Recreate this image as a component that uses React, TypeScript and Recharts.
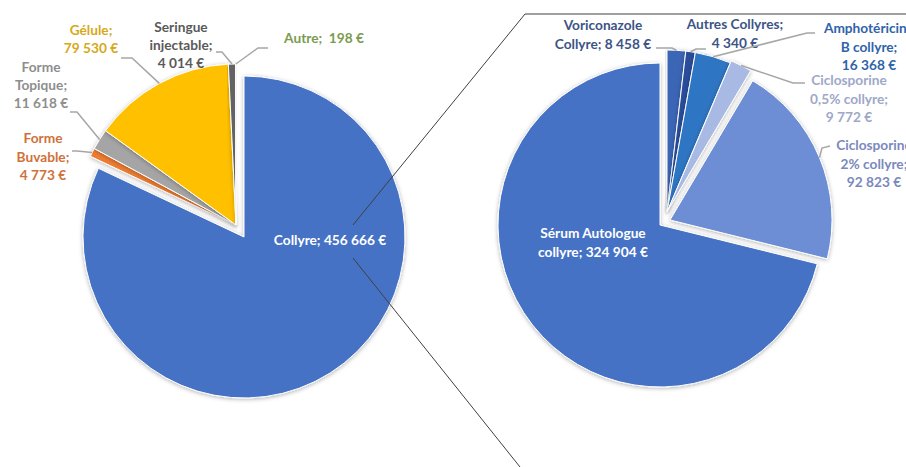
import React from "react";
import { PieChart, Pie, Cell } from "recharts";

// left pie: spending by form
const leftNames = ["Collyre", "Forme Buvable", "Forme Topique", "Gélule", "Seringue injectable", "Autre"];
const leftValues = [456666, 4773, 11618, 79530, 4014, 198];
const leftLabelLines = [["Collyre"], ["Forme", "Buvable"], ["Forme", "Topique"], ["Gélule"], ["Seringue", "injectable"], ["Autre"]];
// separator between name and value: null = new line
const leftSep = [" ", null, null, null, null, "\u00a0 "];

// right pie: detail of "Collyre"
const rightNames = [
  "Voriconazole Collyre",
  "Autres Collyres",
  "Amphotéricine B collyre",
  "Ciclosporine 0,5% collyre",
  "Ciclosporine 2% collyre",
  "Sérum Autologue collyre",
];
const rightValues = [8458, 4340, 16368, 9772, 92823, 324904];
const rightLabelLines = [
  ["Voriconazole", "Collyre"],
  ["Autres Collyres"],
  ["Amphotéricine", "B collyre"],
  ["Ciclosporine", "0,5% collyre"],
  ["Ciclosporine", "2% collyre"],
  ["Sérum Autologue", "collyre"],
];
const rightSep = [" ", null, null, null, null, " "];

const leftColors = ["#4472C4", "#ED7D31", "#A5A5A5", "#FFC000", "#636363", "#70AD47"];
const leftTextColors = ["#ffffff", "#D0713A", "#8E8E8E", "#D6A91A", "#5A5A5A", "#7B9B4F"];
const rightColors = ["#3A65B5", "#2B4E9B", "#2F74C3", "#A8B9E3", "#6D8ED5", "#4472C4"];
const rightTextColors = ["#3C5486", "#3C5486", "#2F63AA", "#9EA8C9", "#7A89BD", "#ffffff"];

// pie geometry + explosion of each slice
const LEFT = { cx: 244, cy: 237, r: 161 };
const RIGHT = { cx: 660, cy: 225, r: 162 };
const leftExplode = [[0, 0], [-8, -12], [-8, -12], [-8, -12], [-8, -12], [-8, -12]];
const rightExplode = [[7, -13], [7, -13], [7, -13], [8, -15], [10, -5], [0, 0]];

// label placement: x center, first baseline, line height, leader elbow + end
type LabelPos = { x: number; y: number; lh: number; elbow?: number[]; end?: number[] };
const leftLabelPos: LabelPos[] = [
  { x: 330, y: 245, lh: 18 },
  { x: 43, y: 143, lh: 18.5, elbow: [77, 151], end: [72, 151] },
  { x: 41, y: 72, lh: 18, elbow: [77, 112], end: [70, 112] },
  { x: 91, y: 35, lh: 18, elbow: [132, 58], end: [121, 58] },
  { x: 181, y: 32, lh: 18, elbow: [222, 52], end: [216, 52] },
  { x: 324, y: 43, lh: 18, elbow: [258, 48], end: [268, 48] },
];
const rightLabelPos: LabelPos[] = [
  { x: 603, y: 30, lh: 18.5, elbow: [672, 48], end: [656, 48] },
  { x: 735, y: 29, lh: 19, elbow: [696, 49], end: [706, 49] },
  { x: 869, y: 33, lh: 18.5, elbow: [807, 33], end: [815, 33] },
  { x: 849, y: 85, lh: 18.5, elbow: [793, 83], end: [805, 83] },
  { x: 874, y: 150, lh: 18.5, elbow: [822, 148], end: [830, 146] },
  { x: 593, y: 238, lh: 19 },
];

const leftData = leftNames.map((name, i) => ({ name, value: leftValues[i] }));
const rightData = rightNames.map((name, i) => ({ name, value: rightValues[i] }));

const FONT = "Lato, 'Open Sans', sans-serif";
const RAD = Math.PI / 180;

const fmt = (v: number) => String(v).replace(/\B(?=(\d{3})+(?!\d))/g, "\u00a0") + "\u00a0€";

function textLines(nameLines: string[], sep: string | null, value: number) {
  const out = nameLines.slice();
  out[out.length - 1] = out[out.length - 1] + ";";
  if (sep !== null) out[out.length - 1] += sep + fmt(value);
  else out.push(fmt(value));
  return out;
}

// pie-of-pie series lines, drawn in the label layer so they sit above the slices
const SeriesLines = () => (
  <g stroke="#404040" strokeWidth={1} fill="none">
    <polyline points="353,225 525,14 906,14" />
    <line x1={353} y1={258} x2={520} y2={467} />
  </g>
);

function makeLabel(
  only: number,
  pos: LabelPos[],
  nameLines: string[][],
  seps: (string | null)[],
  values: number[],
  colors: string[],
  extra?: React.ReactNode
) {
  return (props: any) => {
    const { index, cx, cy, midAngle, outerRadius } = props;
    if (index !== only) return null;
    const p = pos[index];
    const lines = textLines(nameLines[index], seps[index], values[index]);
    let leader = null;
    if (p.elbow && p.end) {
      const sx = cx + outerRadius * Math.cos(-midAngle * RAD);
      const sy = cy + outerRadius * Math.sin(-midAngle * RAD);
      leader = (
        <polyline
          points={`${sx},${sy} ${p.elbow[0]},${p.elbow[1]} ${p.end[0]},${p.end[1]}`}
          fill="none"
          stroke="#a6a6a6"
          strokeWidth={1.5}
        />
      );
    }
    return (
      <g>
        {extra}
        {leader}
        <text
          x={p.x}
          y={p.y}
          textAnchor="middle"
          fill={colors[index]}
          fontFamily={FONT}
          fontWeight={700}
          fontSize={13.7}
        >
          {lines.map((l, k) => (
            <tspan key={k} x={p.x} y={p.y + k * p.lh}>
              {l}
            </tspan>
          ))}
        </text>
      </g>
    );
  };
}

export default function App() {
  return (
    <div
      style={{
        position: "absolute",
        left: 0,
        top: 0,
        width: 906,
        height: 467,
        overflow: "hidden",
        background: "#fff",
      }}
    >
      <PieChart width={906} height={467} margin={{ top: 0, right: 0, bottom: 0, left: 0 }}>
        <defs>
          <filter id="pieShadow" x="-10%" y="-10%" width="120%" height="120%">
            <feDropShadow dx="0" dy="1" stdDeviation="2" floodColor="#000" floodOpacity="0.3" />
          </filter>
        </defs>
        {leftData.map((_, i) => (
          <Pie
            key={"l" + i}
            data={leftData}
            dataKey="value"
            nameKey="name"
            cx={LEFT.cx + leftExplode[i][0]}
            cy={LEFT.cy + leftExplode[i][1]}
            outerRadius={LEFT.r}
            startAngle={90}
            endAngle={-270}
            isAnimationActive={false}
            labelLine={false}
            label={makeLabel(
              i,
              leftLabelPos,
              leftLabelLines,
              leftSep,
              leftValues,
              leftTextColors,
              i === 0 ? <SeriesLines /> : undefined
            )}
          >
            {leftData.map((__, j) => (
              <Cell
                key={j}
                fill={i === j ? leftColors[j] : "none"}
                stroke={i === j ? "#ffffff" : "none"}
                strokeWidth={1}
                filter={i === j ? "url(#pieShadow)" : undefined}
              />
            ))}
          </Pie>
        ))}
        {rightData.map((_, i) => (
          <Pie
            key={"r" + i}
            data={rightData}
            dataKey="value"
            nameKey="name"
            cx={RIGHT.cx + rightExplode[i][0]}
            cy={RIGHT.cy + rightExplode[i][1]}
            outerRadius={RIGHT.r}
            startAngle={90}
            endAngle={-270}
            isAnimationActive={false}
            labelLine={false}
            label={makeLabel(i, rightLabelPos, rightLabelLines, rightSep, rightValues, rightTextColors)}
          >
            {rightData.map((__, j) => (
              <Cell
                key={j}
                fill={i === j ? rightColors[j] : "none"}
                stroke={i === j ? "#ffffff" : "none"}
                strokeWidth={1}
                filter={i === j ? "url(#pieShadow)" : undefined}
              />
            ))}
          </Pie>
        ))}
      </PieChart>
    </div>
  );
}
